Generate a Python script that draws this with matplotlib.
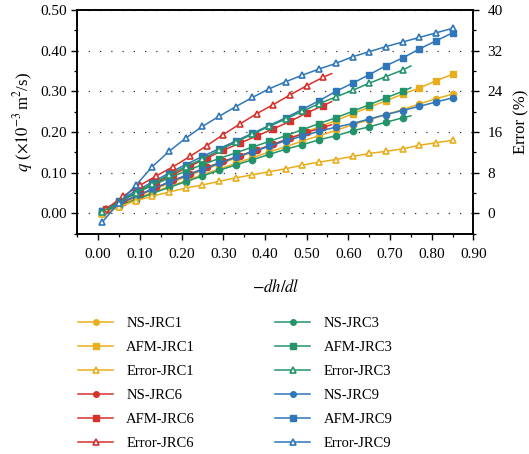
import matplotlib
matplotlib.use("Agg")
import matplotlib.pyplot as plt
from matplotlib.ticker import MultipleLocator, FormatStrFormatter
from matplotlib.lines import Line2D

plt.rcParams["font.family"] = ["Liberation Serif", "DejaVu Serif"]
plt.rcParams["mathtext.fontset"] = "stix"
plt.rcParams["font.size"] = 11

# hydraulic gradient values
x_jrc1 = [0.01, 0.05, 0.09, 0.13, 0.17, 0.21, 0.25, 0.29, 0.33, 0.37, 0.41,
          0.45, 0.49, 0.53, 0.57, 0.61, 0.65, 0.69, 0.73, 0.77, 0.81, 0.85]
x_jrc9 = x_jrc1
x_jrc3 = [0.01, 0.05, 0.09, 0.13, 0.17, 0.21, 0.25, 0.29, 0.33, 0.37,
          0.41, 0.45, 0.49, 0.53, 0.57, 0.61, 0.65, 0.69, 0.73, 0.75]
x_jrc6 = [0.02, 0.06, 0.10, 0.14, 0.18, 0.22, 0.26, 0.30, 0.34, 0.38,
          0.42, 0.46, 0.50, 0.54, 0.56]

# flow rate q (x10^-3 m^2/s)
ns_jrc1 = [0.002, 0.020, 0.036, 0.051, 0.066, 0.080, 0.095, 0.109, 0.123, 0.137, 0.151,
           0.164, 0.178, 0.191, 0.204, 0.218, 0.230, 0.243, 0.255, 0.269, 0.282, 0.293]
afm_jrc1 = [0.000, 0.022, 0.041, 0.058, 0.074, 0.090, 0.106, 0.121, 0.136, 0.151, 0.166,
            0.181, 0.197, 0.213, 0.228, 0.245, 0.261, 0.277, 0.293, 0.308, 0.326, 0.342]
ns_jrc3 = [0.002, 0.018, 0.034, 0.049, 0.064, 0.078, 0.092, 0.106, 0.119, 0.132,
           0.145, 0.158, 0.169, 0.181, 0.191, 0.203, 0.213, 0.224, 0.235, 0.240]
afm_jrc3 = [0.006, 0.029, 0.050, 0.069, 0.087, 0.104, 0.120, 0.135, 0.149, 0.163,
            0.177, 0.191, 0.206, 0.221, 0.235, 0.251, 0.267, 0.284, 0.300, 0.309]
ns_jrc6 = [0.009, 0.028, 0.046, 0.064, 0.081, 0.097, 0.113, 0.128, 0.142, 0.156,
           0.170, 0.185, 0.199, 0.212, 0.218]
afm_jrc6 = [0.010, 0.033, 0.055, 0.076, 0.096, 0.116, 0.136, 0.155, 0.173, 0.190,
            0.208, 0.226, 0.247, 0.265, 0.275]
ns_jrc9 = [0.004, 0.024, 0.043, 0.060, 0.077, 0.093, 0.108, 0.123, 0.138, 0.152, 0.165,
           0.179, 0.190, 0.202, 0.212, 0.221, 0.232, 0.243, 0.253, 0.263, 0.274, 0.284]
afm_jrc9 = [0.006, 0.031, 0.055, 0.077, 0.099, 0.120, 0.140, 0.159, 0.178, 0.197, 0.216,
            0.235, 0.256, 0.277, 0.300, 0.320, 0.341, 0.363, 0.382, 0.404, 0.424, 0.444]

# relative error (%)
err_jrc1 = [-0.2, 1.3, 2.5, 3.4, 4.2, 5.0, 5.6, 6.3, 7.0, 7.6, 8.2,
            8.8, 9.5, 10.1, 10.6, 11.2, 11.8, 12.2, 12.7, 13.4, 13.9, 14.4]
err_jrc3 = [0.3, 2.2, 4.1, 5.8, 7.6, 9.2, 10.7, 12.4, 14.0, 15.6,
            17.1, 18.6, 20.1, 21.6, 22.9, 24.2, 25.6, 26.9, 28.2, 29.0]
err_jrc6 = [0.9, 3.4, 5.5, 7.4, 9.2, 11.2, 13.3, 15.5, 17.6, 19.6,
            21.4, 23.3, 25.1, 26.8, 27.5]
err_jrc9 = [-1.7, 2.1, 5.5, 9.2, 12.2, 14.8, 17.1, 19.1, 21.0, 22.8, 24.5,
            25.9, 27.2, 28.4, 29.5, 30.8, 31.8, 32.8, 33.7, 34.6, 35.5, 36.4]

c_yellow = "#E9AE1E"
c_red = "#D5322C"
c_green = "#23946A"
c_blue = "#2F77B8"

fig = plt.figure(figsize=(5.29, 4.54), dpi=100)
ax = fig.add_axes([0.146, 0.485, 0.749, 0.493])
ax2 = ax.twinx()

groups = [
    ("JRC1", x_jrc1, ns_jrc1, afm_jrc1, err_jrc1, c_yellow),
    ("JRC6", x_jrc6, ns_jrc6, afm_jrc6, err_jrc6, c_red),
    ("JRC3", x_jrc3, ns_jrc3, afm_jrc3, err_jrc3, c_green),
    ("JRC9", x_jrc9, ns_jrc9, afm_jrc9, err_jrc9, c_blue),
]

lw = 1.1
ms = 4.5
handles = []
for name, xs, ns, afm, err, col in groups:
    # the last point of the shorter runs carries no marker
    every = list(range(len(xs) - 1)) if len(xs) in (15, 20) else None
    ax.plot(xs, ns, "-o", color=col, lw=lw, ms=ms, markevery=every)
    ax.plot(xs, afm, "-s", color=col, lw=lw, ms=ms - 0.3, markevery=every)
    ax2.plot(xs, err, "-^", color=col, lw=lw, ms=ms + 0.5, mfc="white",
             mew=1.2, markevery=every)
    handles += [
        Line2D([], [], color=col, lw=lw, marker="o", ms=ms - 0.5, label="NS-" + name),
        Line2D([], [], color=col, lw=lw, marker="s", ms=ms - 0.8, label="AFM-" + name),
        Line2D([], [], color=col, lw=lw, marker="^", ms=ms, mfc="white", mew=1.2,
               label="Error-" + name),
    ]

ax.set_xlim(-0.05, 0.90)
ax.set_ylim(-0.05, 0.50)
ax2.set_ylim(-4, 40)

ax.xaxis.set_major_locator(MultipleLocator(0.10))
ax.xaxis.set_minor_locator(MultipleLocator(0.05))
ax.yaxis.set_major_locator(MultipleLocator(0.10))
ax.yaxis.set_minor_locator(MultipleLocator(0.05))
ax.xaxis.set_major_formatter(FormatStrFormatter("%.2f"))
ax.yaxis.set_major_formatter(FormatStrFormatter("%.2f"))
ax2.yaxis.set_major_locator(MultipleLocator(8))
ax2.yaxis.set_minor_locator(MultipleLocator(4))

for a in (ax, ax2):
    a.tick_params(which="major", direction="out", length=4, width=1.0, labelsize=11)
    a.tick_params(which="minor", direction="out", length=2.5, width=0.9)
    for s in a.spines.values():
        s.set_linewidth(1.2)
ax.tick_params(axis="x", pad=6)
ax.tick_params(top=False, right=False)
ax2.tick_params(axis="y", pad=6)

ax.grid(axis="y", which="major", linestyle=(0, (1, 8)), color="#333333", lw=0.9)
ax.set_axisbelow(True)

ax.set_xticks([0.0, 0.1, 0.2, 0.3, 0.4, 0.5, 0.6, 0.7, 0.8, 0.9])
ax.set_xlabel(r"$-dh/dl$", fontsize=12, labelpad=13)
ax.set_ylabel(r"$q$ ($\times 10^{-3}\,$m$^2$/s)", fontsize=12, labelpad=4)
ax2.set_ylabel("Error (%)", fontsize=12, labelpad=8)

fig.legend(handles=handles, ncol=2, loc="upper left",
           bbox_to_anchor=(0.123, 0.331), frameon=False, fontsize=10.5,
           handlelength=2.4, handletextpad=0.9, columnspacing=5.5,
           labelspacing=0.74)

fig.savefig("out.png", dpi=100)
